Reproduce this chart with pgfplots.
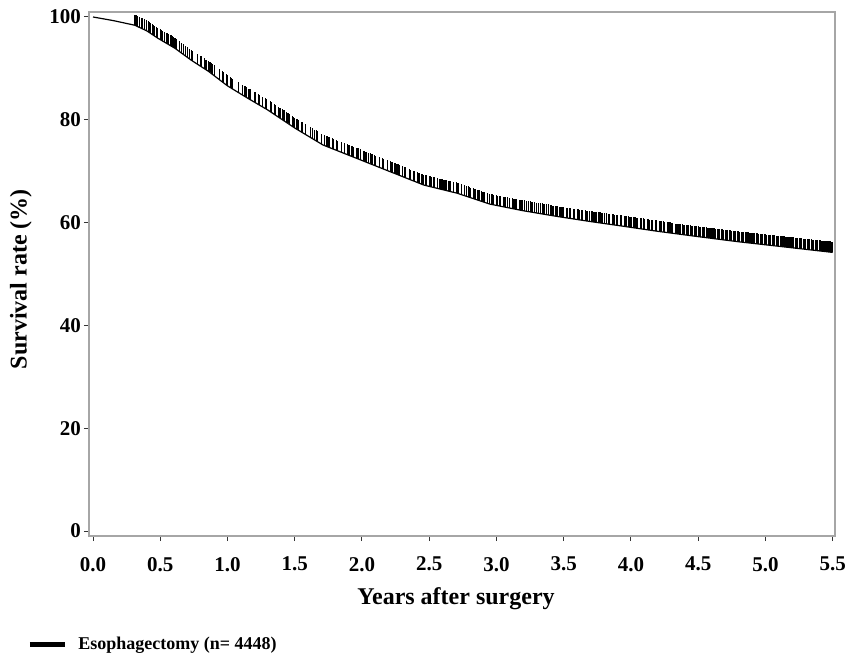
\documentclass[border=0pt]{standalone}
\usepackage{fontspec}
\setmainfont{Liberation Serif}
\usepackage{pgfplots}
\usepackage{pgfplotstable}
\pgfplotsset{compat=1.18}
\pgfdeclareplotmark{cens}{\pgfpathmoveto{\pgfpointorigin}\pgfpathlineto{\pgfpoint{0pt}{2\pgfplotmarksize}}\pgfusepathqstroke}

\pgfplotstableread{
t S
0.00 100.0
0.15 99.3
0.31 98.4
0.40 97.3
0.48 95.9
0.61 93.9
0.73 91.6
0.86 89.4
1.00 86.6
1.15 84.2
1.30 81.9
1.50 78.4
1.71 75.1
1.96 72.5
2.21 69.9
2.46 67.3
2.71 65.7
2.95 63.6
3.20 62.3
3.45 61.2
3.70 60.2
3.94 59.3
4.20 58.3
4.49 57.3
4.79 56.3
5.13 55.3
5.50 54.2
}\curve

\pgfplotstableread{
t S
0.31 98.4
0.32 98.3
0.33 98.2
0.345 98.0
0.36 97.8
0.37 97.7
0.385 97.5
0.40 97.3
0.41 97.1
0.42 97.0
0.43 96.8
0.44 96.6
0.45 96.4
0.46 96.3
0.47 96.1
0.48 95.9
0.50 95.6
0.51 95.4
0.52 95.3
0.53 95.1
0.55 94.8
0.56 94.7
0.58 94.4
0.59 94.2
0.60 94.1
0.61 93.9
0.62 93.7
0.64 93.3
0.66 92.9
0.67 92.7
0.69 92.4
0.70 92.2
0.72 91.8
0.73 91.6
0.74 91.4
0.78 90.8
0.80 90.4
0.81 90.3
0.83 89.9
0.84 89.7
0.86 89.4
0.87 89.2
0.88 89.0
0.89 88.8
0.90 88.6
0.94 87.8
0.96 87.4
0.97 87.2
0.99 86.8
1.00 86.6
1.02 86.3
1.03 86.1
1.04 86.0
1.08 85.3
1.11 84.8
1.13 84.5
1.14 84.4
1.16 84.0
1.17 83.9
1.20 83.4
1.21 83.3
1.23 83.0
1.24 82.8
1.26 82.5
1.28 82.2
1.29 82.1
1.32 81.6
1.33 81.4
1.35 81.0
1.36 80.9
1.38 80.5
1.39 80.3
1.41 80.0
1.42 79.8
1.44 79.5
1.45 79.3
1.46 79.1
1.48 78.8
1.49 78.6
1.50 78.4
1.51 78.2
1.52 78.1
1.53 77.9
1.55 77.6
1.56 77.5
1.58 77.1
1.62 76.5
1.63 76.3
1.65 76.0
1.66 75.9
1.67 75.7
1.70 75.3
1.72 75.0
1.74 74.8
1.75 74.7
1.76 74.6
1.78 74.4
1.79 74.3
1.81 74.1
1.82 73.9
1.85 73.6
1.87 73.4
1.89 73.2
1.90 73.1
1.91 73.0
1.92 72.9
1.93 72.8
1.94 72.7
1.96 72.5
1.97 72.4
1.99 72.2
2.01 72.0
2.02 71.9
2.03 71.8
2.05 71.6
2.06 71.5
2.07 71.4
2.08 71.3
2.09 71.1
2.10 71.0
2.13 70.7
2.15 70.5
2.16 70.4
2.19 70.1
2.21 69.9
2.22 69.8
2.23 69.7
2.24 69.6
2.25 69.5
2.26 69.4
2.27 69.3
2.28 69.2
2.30 69.0
2.32 68.8
2.35 68.4
2.36 68.3
2.38 68.1
2.39 68.0
2.41 67.8
2.42 67.7
2.43 67.6
2.44 67.5
2.45 67.4
2.46 67.3
2.47 67.2
2.48 67.2
2.50 67.0
2.51 67.0
2.52 66.9
2.53 66.9
2.54 66.8
2.56 66.7
2.58 66.5
2.59 66.5
2.60 66.4
2.61 66.3
2.62 66.3
2.63 66.2
2.64 66.1
2.65 66.1
2.66 66.0
2.68 65.9
2.70 65.8
2.71 65.7
2.72 65.6
2.74 65.4
2.76 65.3
2.78 65.1
2.79 65.0
2.80 64.9
2.81 64.8
2.83 64.7
2.84 64.6
2.86 64.4
2.87 64.3
2.89 64.1
2.90 64.0
2.91 64.0
2.93 63.8
2.95 63.6
2.96 63.5
2.97 63.5
2.98 63.4
3.00 63.3
3.01 63.2
3.02 63.2
3.03 63.1
3.05 63.0
3.06 63.0
3.07 62.9
3.08 62.9
3.10 62.8
3.12 62.7
3.13 62.6
3.14 62.6
3.15 62.5
3.17 62.4
3.18 62.4
3.19 62.3
3.21 62.3
3.22 62.2
3.24 62.1
3.25 62.1
3.26 62.0
3.27 62.0
3.28 61.9
3.30 61.8
3.31 61.8
3.33 61.7
3.34 61.7
3.35 61.6
3.36 61.6
3.37 61.5
3.39 61.5
3.40 61.4
3.41 61.4
3.42 61.3
3.44 61.2
3.45 61.2
3.47 61.1
3.48 61.1
3.49 61.0
3.50 61.0
3.52 60.9
3.53 60.9
3.54 60.8
3.55 60.8
3.57 60.7
3.58 60.7
3.60 60.6
3.61 60.6
3.62 60.5
3.63 60.5
3.64 60.4
3.66 60.4
3.67 60.3
3.68 60.3
3.69 60.2
3.71 60.2
3.72 60.1
3.73 60.1
3.74 60.1
3.76 60.0
3.77 60.0
3.78 59.9
3.79 59.9
3.80 59.8
3.82 59.8
3.83 59.7
3.84 59.7
3.86 59.6
3.87 59.6
3.88 59.5
3.89 59.5
3.90 59.5
3.92 59.4
3.93 59.4
3.95 59.3
3.96 59.2
3.97 59.2
3.98 59.2
3.99 59.1
4.00 59.1
4.02 59.0
4.03 59.0
4.04 58.9
4.05 58.9
4.07 58.8
4.08 58.8
4.09 58.8
4.10 58.7
4.12 58.6
4.13 58.6
4.14 58.5
4.15 58.5
4.16 58.5
4.18 58.4
4.19 58.4
4.21 58.3
4.22 58.2
4.23 58.2
4.24 58.2
4.25 58.1
4.27 58.1
4.28 58.0
4.29 58.0
4.30 57.9
4.31 57.9
4.33 57.8
4.34 57.8
4.35 57.8
4.36 57.7
4.37 57.7
4.38 57.7
4.39 57.6
4.40 57.6
4.41 57.6
4.42 57.5
4.43 57.5
4.44 57.5
4.45 57.4
4.46 57.4
4.47 57.4
4.48 57.3
4.49 57.3
4.50 57.3
4.51 57.2
4.52 57.2
4.53 57.2
4.54 57.1
4.55 57.1
4.56 57.1
4.57 57.0
4.58 57.0
4.59 57.0
4.60 56.9
4.61 56.9
4.62 56.9
4.63 56.8
4.64 56.8
4.65 56.8
4.66 56.7
4.67 56.7
4.68 56.7
4.69 56.6
4.70 56.6
4.71 56.6
4.72 56.5
4.73 56.5
4.74 56.5
4.75 56.4
4.76 56.4
4.77 56.4
4.78 56.3
4.79 56.3
4.80 56.3
4.81 56.2
4.82 56.2
4.83 56.2
4.84 56.2
4.85 56.1
4.86 56.1
4.87 56.1
4.88 56.0
4.89 56.0
4.90 56.0
4.91 55.9
4.92 55.9
4.93 55.9
4.94 55.9
4.95 55.8
4.96 55.8
4.97 55.8
4.98 55.7
4.99 55.7
5.00 55.7
5.01 55.6
5.02 55.6
5.03 55.6
5.04 55.6
5.05 55.5
5.06 55.5
5.07 55.5
5.08 55.4
5.09 55.4
5.10 55.4
5.11 55.4
5.12 55.3
5.13 55.3
5.14 55.3
5.15 55.2
5.16 55.2
5.17 55.2
5.18 55.1
5.19 55.1
5.20 55.1
5.21 55.1
5.22 55.0
5.23 55.0
5.24 55.0
5.25 54.9
5.26 54.9
5.27 54.9
5.28 54.8
5.29 54.8
5.30 54.8
5.31 54.8
5.32 54.7
5.33 54.7
5.34 54.7
5.35 54.6
5.36 54.6
5.37 54.6
5.38 54.6
5.39 54.5
5.40 54.5
5.41 54.5
5.42 54.4
5.43 54.4
5.44 54.4
5.45 54.3
5.46 54.3
5.47 54.3
5.48 54.3
5.49 54.2
5.50 54.2
}\cens

\begin{document}
\begin{tikzpicture}
\begin{axis}[
  scale only axis,
  width=373bp, height=262bp,
  xmin=-0.0298, xmax=5.517,
  ymin=-0.97, ymax=100.97,
  axis line style={draw=black!35, line width=0.6bp},
  xtick={0,0.5,1,1.5,2,2.5,3,3.5,4,4.5,5,5.5},
  ytick={0,20,40,60,80,100},
  tick align=outside,
  xtick pos=bottom, ytick pos=left,
  major tick length=2.5bp,
  tick style={black!80, line width=0.5bp},
  /pgf/number format/assume math mode=true,
  xticklabel style={/pgf/number format/.cd, fixed, fixed zerofill, precision=1, assume math mode=true, /tikz/.cd, yshift=-4.5bp},
  yticklabel style={xshift=2bp},
  tick label style={font=\fontsize{10.5bp}{12bp}\selectfont\bfseries, black},
  xlabel={Years after surgery},
  ylabel={Survival rate (\%)},
  label style={font=\fontsize{12bp}{14bp}\selectfont\bfseries},
  xlabel style={at={(axis description cs:0.492,-0.12)}, anchor=center},
  ylabel style={at={(axis description cs:-0.0912,0.49)}, anchor=center},
  legend style={at={(axis description cs:-0.083,-0.207)}, anchor=west,
    draw=none, fill=none, inner sep=0pt,
    font=\fontsize{9bp}{11bp}\selectfont\bfseries},
  legend cell align=left,
  legend image code/.code={\draw[#1] (0bp,0bp) -- (17.5bp,0bp); \path (21bp,0bp);},
]
\addplot[black, line width=0.6bp, no marks, forget plot] table[x=t, y=S] {\curve};
\addplot[black, only marks, mark=cens, mark size=2.6bp, mark options={line width=0.55bp}, forget plot] table[x=t, y=S] {\cens};
\addlegendimage{black, line width=2.5bp}
\addlegendentry{Esophagectomy (n= 4448)}
\end{axis}
\pgfresetboundingbox
\path[use as bounding box] ([xshift=-44.5bp,yshift=-58.5bp]current axis.south west) rectangle ([xshift=12.5bp,yshift=6bp]current axis.north east);
\end{tikzpicture}
\end{document}
